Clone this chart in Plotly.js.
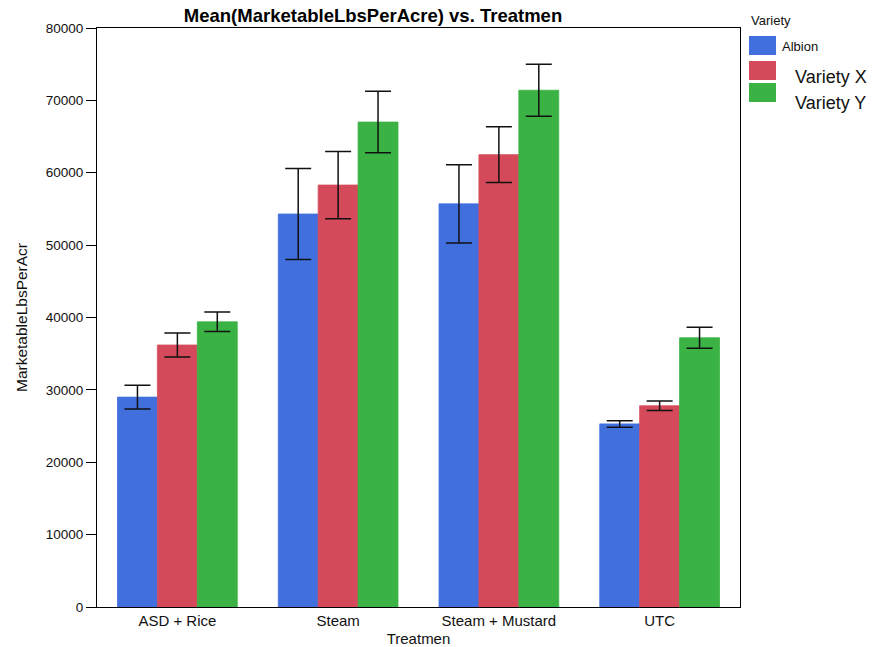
<!DOCTYPE html>
<html>
<head>
<meta charset="utf-8">
<script src="https://cdn.plot.ly/plotly-3.0.1.min.js"></script>
<style>html,body{margin:0;padding:0;background:#fff;}#chart{width:878px;height:647px;}</style>
</head>
<body>
<div id="chart"></div>
<script>
const categories = ["ASD + Rice", "Steam", "Steam + Mustard", "UTC"];
const seriesNames = ["Albion", "Variety X", "Variety Y"];
const albion = [29000, 54300, 55700, 25300];
const albionErr = [1650, 6300, 5400, 450];
const varietyX = [36200, 58300, 62500, 27800];
const varietyXErr = [1650, 4650, 3850, 650];
const varietyY = [39400, 67000, 71400, 37200];
const varietyYErr = [1350, 4250, 3600, 1450];
const yTicks = [0, 10000, 20000, 30000, 40000, 50000, 60000, 70000, 80000];

const colors = ["#4170de", "#d54a5a", "#3bb244"];
const values = [albion, varietyX, varietyY];
const errs = [albionErr, varietyXErr, varietyYErr];

const traces = seriesNames.map((n, i) => ({
  type: "bar",
  name: n,
  x: categories,
  y: values[i],
  marker: {color: colors[i], line: {width: 0.8, color: colors[i]}},
  error_y: {type: "data", array: errs[i], visible: true, color: "#111", thickness: 1.5, width: 13},
  showlegend: false
}));

const font = "Liberation Sans, Arial, sans-serif";
const shapes = [];
const annotations = [];
// legend
annotations.push({xref: "paper", yref: "paper", x: (749-97)/643, y: 1 + (28-20)/579, xanchor: "left", yanchor: "middle",
  text: "Variety", showarrow: false, font: {family: font, size: 13, color: "#111"}});
const legText = [[780, 46, 13], [793, 77, 18], [793, 103, 18]];
seriesNames.forEach((n, i) => {
  const top = [36, 61, 83][i];
  shapes.push({type: "rect", xref: "paper", yref: "paper",
    x0: (749-97)/643, x1: (776-97)/643, y0: (607-top)/579, y1: (607-top-19)/579,
    fillcolor: colors[i], line: {width: 0}});
  annotations.push({xref: "paper", yref: "paper", x: (legText[i][0]-97)/643, y: (607-legText[i][1])/579,
    xanchor: "left", yanchor: "middle", text: n, showarrow: false,
    font: {family: font, size: legText[i][2], color: "#111"}});
});

const layout = {
  width: 878, height: 647,
  margin: {l: 97, r: 138, t: 28, b: 40},
  paper_bgcolor: "#fff", plot_bgcolor: "#fff",
  barmode: "group", bargap: 0.255, bargroupgap: 0,
  title: {text: "<b>Mean(MarketableLbsPerAcre) vs. Treatmen</b>", xref: "paper", x: (373-97)/643, xanchor: "center",
    yref: "container", y: 1 - 16/647, yanchor: "middle", font: {family: font, size: 18.5, color: "#000"}},
  xaxis: {title: {text: "Treatmen", font: {family: font, size: 15, color: "#111"}, standoff: 9},
    showline: true, linecolor: "#000", linewidth: 1, mirror: true, ticks: "", showgrid: false,
    tickfont: {family: font, size: 15, color: "#111"}},
  yaxis: {title: {text: "MarketableLbsPerAcr", font: {family: font, size: 15.5, color: "#111"}, standoff: 14},
    range: [0, 80000], tickvals: yTicks, ticktext: yTicks.map(String),
    showline: true, linecolor: "#000", linewidth: 1, mirror: true, ticks: "outside", ticklen: 10, tickcolor: "#000",
    showgrid: false, zeroline: false, tickfont: {family: font, size: 13.5, color: "#111"}},
  shapes: shapes, annotations: annotations
};
Plotly.newPlot("chart", traces, layout, {displayModeBar: false});
</script>
</body>
</html>
